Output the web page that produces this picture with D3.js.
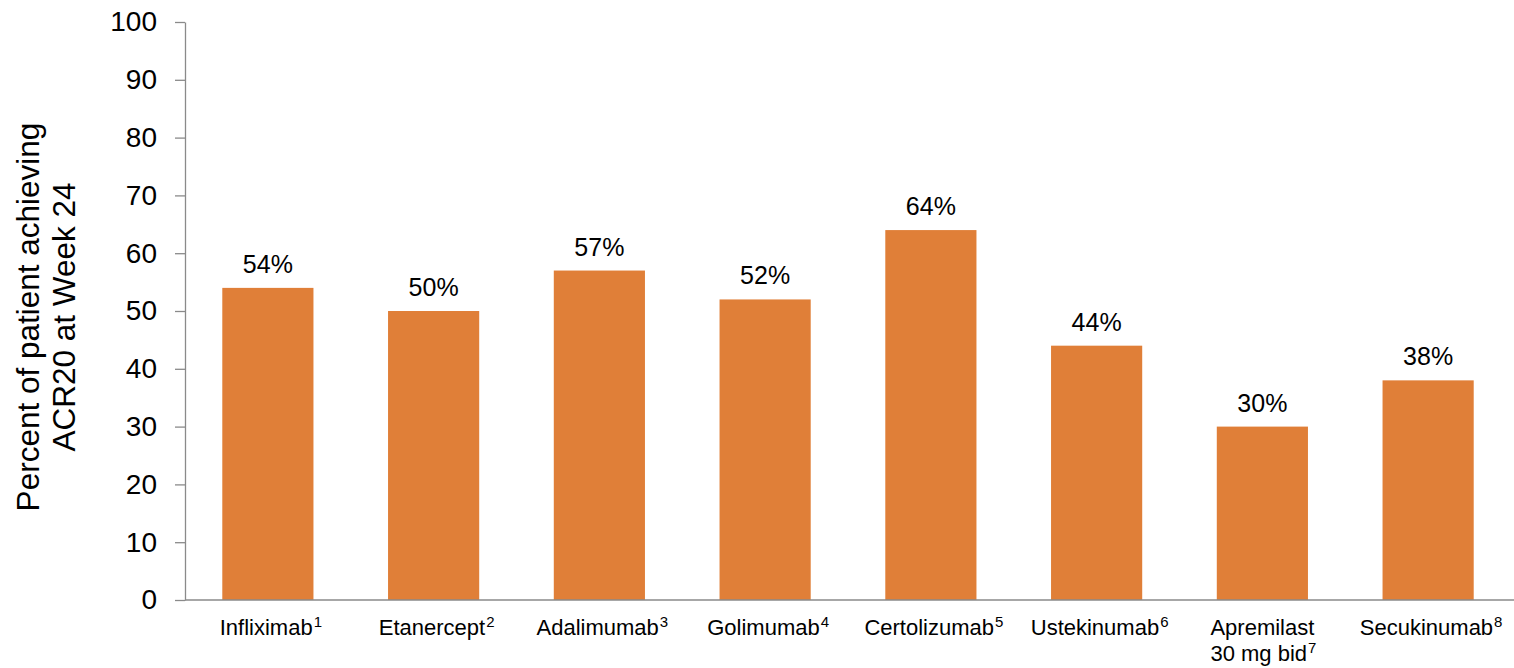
<!DOCTYPE html>
<html>
<head>
<meta charset="utf-8">
<script src="https://cdn.jsdelivr.net/npm/d3@7/dist/d3.min.js"></script>
<style>
  html, body { margin: 0; padding: 0; background: #fff; }
  svg { display: block; font-family: "Liberation Sans", Arial, sans-serif; }
</style>
</head>
<body>
<svg id="chart" width="1514" height="668"></svg>
<script>
// ACR20 response at week 24, by therapy
const drugs = ["Infliximab", "Etanercept", "Adalimumab", "Golimumab", "Certolizumab", "Ustekinumab", "Apremilast\n30 mg bid", "Secukinumab"];
const refs = ["1", "2", "3", "4", "5", "6", "7", "8"];
const responsePct = [54, 50, 57, 52, 64, 44, 30, 38];
const yTicks = [0, 10, 20, 30, 40, 50, 60, 70, 80, 90, 100];
const yTitle = ["Percent of patient achieving", "ACR20 at Week 24"];

const svg = d3.select("#chart");
const plot = { left: 185, right: 1511, top: 22, bottom: 600 };
const barColor = "#E07F38";
const axisColor = "#8a8a8a";

const x = d3.scaleBand().domain(drugs).range([plot.left, plot.right]).paddingInner(0.45).paddingOuter(0.225);
const y = d3.scaleLinear().domain([0, 100]).range([plot.bottom, plot.top]);

// bars
svg.append("g").selectAll("rect")
  .data(drugs)
  .join("rect")
  .attr("x", d => x(d))
  .attr("width", x.bandwidth())
  .attr("y", (d, i) => y(responsePct[i]))
  .attr("height", (d, i) => y(0) - y(responsePct[i]))
  .attr("fill", barColor);

// value labels
svg.append("g").selectAll("text")
  .data(drugs)
  .join("text")
  .attr("x", d => x(d) + x.bandwidth() / 2)
  .attr("y", (d, i) => y(responsePct[i]) - 15)
  .attr("text-anchor", "middle")
  .attr("font-size", 25)
  .attr("fill", "#000")
  .text((d, i) => responsePct[i] + "%");

// y axis
const yAxis = d3.axisLeft(y).tickValues(yTicks).tickSize(10).tickPadding(18).tickSizeOuter(0);
const gy = svg.append("g").attr("transform", `translate(${plot.left},0)`).call(yAxis);
gy.select(".domain").attr("stroke", axisColor).attr("stroke-width", 1.3);
gy.selectAll(".tick line").attr("stroke", axisColor).attr("stroke-width", 1.3);
gy.selectAll(".tick text").attr("font-size", 28).attr("fill", "#000")
  .attr("font-family", "'Liberation Sans', Arial, sans-serif");

// x axis baseline
const xAxis = d3.axisBottom(x).tickSize(0).tickFormat("");
const gx = svg.append("g").attr("transform", `translate(0,${plot.bottom})`).call(xAxis);
gx.select(".domain").attr("stroke", axisColor).attr("stroke-width", 1.3)
  .attr("d", `M${plot.left},0H1514`);

// category labels with reference superscripts
const catG = svg.append("g").attr("font-size", 22).attr("fill", "#000");
drugs.forEach((d, i) => {
  const lines = d.split("\n");
  const cx = x(d) + x.bandwidth() / 2;
  const txts = lines.map((ln, j) => {
    const t = catG.append("text").attr("y", 635 + j * 26);
    t.append("tspan").text(ln);
    if (j === lines.length - 1) {
      t.append("tspan").attr("font-size", 15).attr("dx", 1).attr("dy", -8).text(refs[i]);
    }
    return t;
  });
  if (lines.length === 1) {
    txts[0].attr("x", cx + 3).attr("text-anchor", "middle");
  } else {
    // lines share a left edge, block centred under the bar on its first line
    const w0 = txts[0].node().getComputedTextLength();
    const startX = cx - w0 / 2;
    txts.forEach(t => t.attr("x", startX));
  }
});

// y axis title
const title = svg.append("text")
  .attr("transform", "translate(0,317) rotate(-90)")
  .attr("text-anchor", "middle")
  .attr("font-size", 31.5)
  .attr("fill", "#000");
yTitle.forEach((ln, j) => {
  title.append("tspan").attr("x", 0).attr("y", 38.5 + j * 36.5).text(ln);
});
</script>
</body>
</html>
